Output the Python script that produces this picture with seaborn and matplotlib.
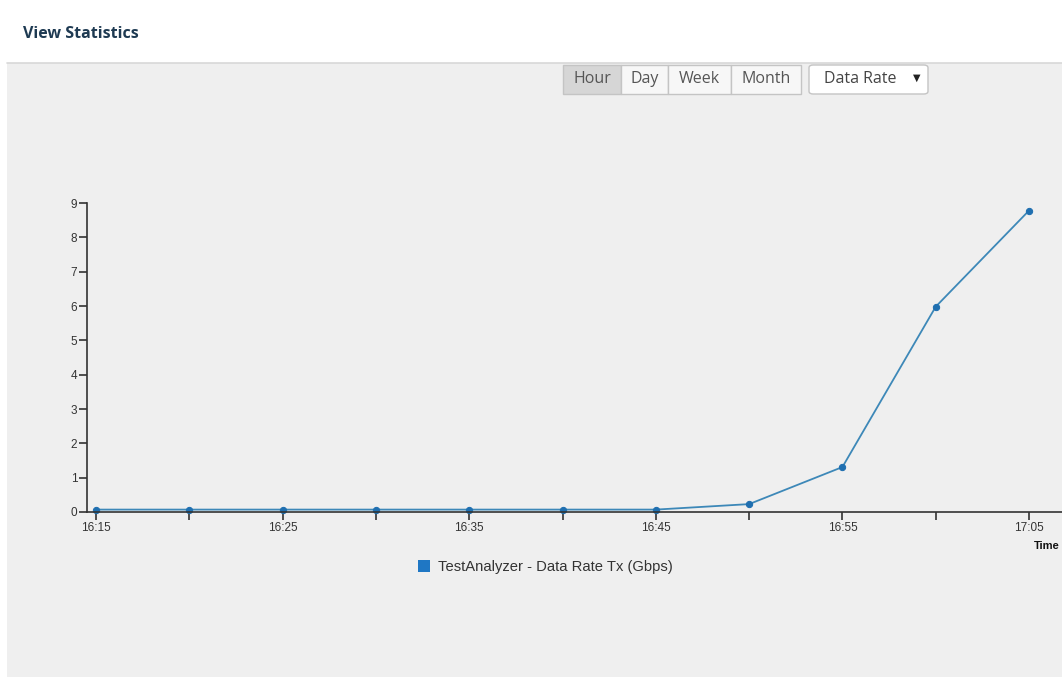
import pandas as pd
import matplotlib
matplotlib.use("Agg")
import matplotlib.pyplot as plt
from matplotlib.patches import Rectangle, FancyBboxPatch
import seaborn as sns

times = ["16:15", "16:20", "16:25", "16:30", "16:35", "16:40",
         "16:45", "16:50", "16:55", "17:00", "17:05"]
rate_gbps = [0.07, 0.07, 0.07, 0.07, 0.07, 0.07, 0.07, 0.23, 1.31, 5.98, 8.78]
tick_labels = ["16:15", "16:25", "16:35", "16:45", "16:55", "17:05"]
buttons = ["Hour", "Day", "Week", "Month"]
series_name = "TestAnalyzer - Data Rate Tx (Gbps)"

df = pd.DataFrame({"time": pd.to_datetime(times, format="%H:%M"), "rate": rate_gbps})

sns.set_style("white")
plt.rcParams["font.family"] = ["Liberation Sans", "DejaVu Sans"]

W, H = 1062, 677
fig = plt.figure(figsize=(W / 100, H / 100), dpi=100)
fig.patch.set_facecolor("white")


def px(x, y, w, h):
    # pixel box (top-left origin) -> figure fraction
    return (x / W, 1 - (y + h) / H, w / W, h / H)


# page background
bx, by, bw, bh = px(7, 63, W - 7, H - 63)
fig.patches.append(Rectangle((bx, by), bw, bh, transform=fig.transFigure,
                             facecolor="#efefef", edgecolor="none", zorder=-10))
fig.add_artist(plt.Line2D([7 / W, 1], [1 - 63 / H, 1 - 63 / H], transform=fig.transFigure,
                          color="#d8d8d8", lw=1.2, zorder=-9))
fig.text(23 / W, 1 - 34 / H, "View Statistics", fontsize=11.5, fontweight="bold",
         color="#1e3a52", va="center", ha="left", family=["Open Sans", "DejaVu Sans"])

# period buttons
edges = [563, 621, 668, 731, 801]
for i, name in enumerate(buttons):
    x0, x1 = edges[i], edges[i + 1]
    bx, by, bw, bh = px(x0, 65, x1 - x0, 29)
    fig.patches.append(Rectangle((bx, by), bw, bh, transform=fig.transFigure,
                                 facecolor="#d6d6d6" if i == 0 else "#f7f7f7",
                                 edgecolor="#c4c4c4", lw=1, zorder=-5))
    fig.text((x0 + x1) / 2 / W, 1 - 79 / H, name, fontsize=11.5, color="#555555",
             ha="center", va="center", family=["Open Sans", "DejaVu Sans"])

bx, by, bw, bh = px(809, 65, 119, 29)
fig.patches.append(FancyBboxPatch((bx, by), bw, bh, boxstyle="round,pad=0,rounding_size=0.004",
                                  transform=fig.transFigure, facecolor="white",
                                  edgecolor="#c4c4c4", lw=1, zorder=-5))
fig.text(824 / W, 1 - 79 / H, "Data Rate", fontsize=11.5, color="#444444",
         ha="left", va="center", family=["Open Sans", "DejaVu Sans"])
fig.text(917 / W, 1 - 78 / H, "▼", fontsize=7, color="#222222",
         ha="center", va="center", family=["DejaVu Sans"])

# chart
ax = fig.add_axes([87 / W, 1 - 512 / H, (W - 87) / W, (512 - 203) / H])
ax.set_zorder(5)
ax.patch.set_alpha(0)
sns.lineplot(data=df, x="time", y="rate", ax=ax, color="#3d88b8", linewidth=1.3,
             marker="o", markersize=4.5, markerfacecolor="#1f6fb0",
             markeredgecolor="#1f6fb0", legend=False, clip_on=False)

t0 = df["time"].iloc[0]
ax.set_xlim(t0 - pd.Timedelta(seconds=29), t0 + pd.Timedelta(seconds=3106))
ax.set_ylim(0, 9)
ax.set_xticks(df["time"])
ax.set_xticklabels([t if t in tick_labels else "" for t in times])
ax.set_yticks(range(10))
for s in ["top", "right"]:
    ax.spines[s].set_visible(False)
for s in ["left", "bottom"]:
    ax.spines[s].set_color("#333333")
    ax.spines[s].set_linewidth(1.2)
ax.tick_params(axis="both", bottom=True, left=True, length=6, width=1.2,
               color="#333333", labelsize=8.5, labelcolor="#333333", pad=1)
ax.set_xlabel("")
ax.set_ylabel("")
fig.text(1060 / W, 1 - 546 / H, "Time", fontsize=8, fontweight="bold",
         color="#111111", ha="right", va="center")

# legend
bx, by, bw, bh = px(418, 560, 12, 12)
fig.patches.append(Rectangle((bx, by), bw, bh, transform=fig.transFigure,
                             facecolor="#1f77c4", edgecolor="none", zorder=2))
fig.text(438 / W, 1 - 567 / H, series_name, fontsize=10.6, color="#333333",
         ha="left", va="center")

fig.savefig("out.png", dpi=100)
